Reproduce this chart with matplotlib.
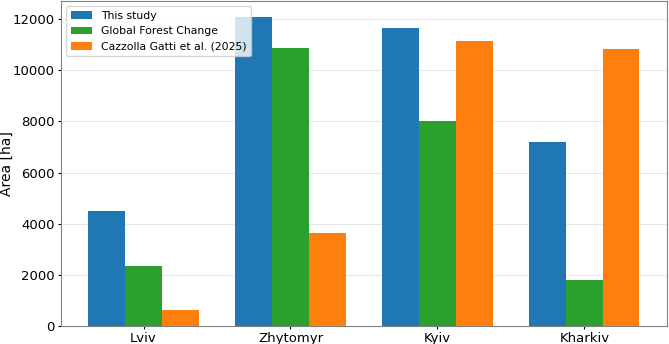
import matplotlib
matplotlib.use("Agg")

import matplotlib.pyplot as plt
import numpy as np

regions = ["Lviv", "Zhytomyr", "Kyiv", "Kharkiv"]
this_study = [4500, 12100, 11650, 7180]
gfc = [2350, 10850, 8000, 1800]
cazzolla = [630, 3620, 11130, 10820]

series = [
    ("This study", this_study, "tab:blue"),
    ("Global Forest Change", gfc, "tab:green"),
    ("Cazzolla Gatti et al. (2025)", cazzolla, "tab:orange"),
]

fig = plt.figure(figsize=(6.69, 3.44), dpi=100)
ax = fig.add_axes([0.091, 0.052, 0.906, 0.945])

x = np.arange(len(regions))
width = 0.25
for i, (label, vals, color) in enumerate(series):
    ax.bar(x + (i - 1) * width, vals, width, label=label, color=color, zorder=3)

ax.set_xticks(x)
ax.set_xticklabels(regions, fontsize=9.5)
ax.tick_params(axis="y", labelsize=9.5, length=2.5, pad=2)
ax.tick_params(axis="x", length=2.5, pad=1.5)
ax.set_ylabel("Area [ha]", fontsize=10)
ax.yaxis.set_label_coords(-0.078, 0.5)
ax.grid(axis="y", color="0.9", linewidth=0.7, zorder=0)
for s in ax.spines.values():
    s.set_color("0.5")
ax.legend(loc="upper left", fontsize=7.8, framealpha=0.8)

fig.savefig("out.png", dpi=100)
plt.close(fig)
